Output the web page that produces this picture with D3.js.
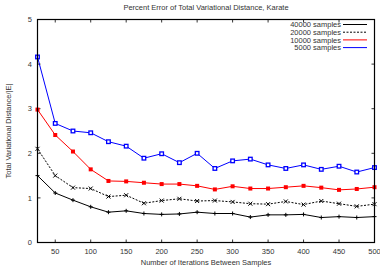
<!DOCTYPE html>
<html>
<head>
<meta charset="utf-8">
<script src="https://cdn.jsdelivr.net/npm/d3@7"></script>
<style>
  html, body { margin: 0; padding: 0; background: #fff; }
  svg { display: block; font-family: "Liberation Sans", Arial, sans-serif; }
</style>
</head>
<body>
<div id="chart"></div>
<script>
// iterations between samples
const iterations = [25, 50, 75, 100, 125, 150, 175, 200, 225, 250, 275, 300, 325, 350, 375, 400, 425, 450, 475, 500];

const s40000 = [1.50, 1.11, 0.95, 0.80, 0.68, 0.71, 0.65, 0.63, 0.64, 0.68, 0.65, 0.65, 0.57, 0.62, 0.62, 0.63, 0.56, 0.58, 0.56, 0.58];
const s20000 = [2.10, 1.50, 1.23, 1.21, 1.03, 1.06, 0.88, 0.94, 0.98, 0.93, 0.94, 0.91, 0.87, 0.86, 0.92, 0.85, 0.93, 0.87, 0.81, 0.86];
const s10000 = [2.98, 2.41, 2.04, 1.64, 1.38, 1.37, 1.34, 1.31, 1.31, 1.27, 1.19, 1.26, 1.21, 1.21, 1.24, 1.27, 1.23, 1.18, 1.20, 1.24];
const s5000  = [4.16, 2.67, 2.50, 2.46, 2.26, 2.16, 1.89, 1.99, 1.79, 2.00, 1.66, 1.83, 1.87, 1.74, 1.66, 1.74, 1.64, 1.71, 1.58, 1.68];

const xTicks = [50, 100, 150, 200, 250, 300, 350, 400, 450, 500];
const yTicks = [0, 1, 2, 3, 4, 5];

const series = [
  { name: '40000 samples', values: s40000, color: '#000000', dash: null,  marker: 'plus' },
  { name: '20000 samples', values: s20000, color: '#000000', dash: '2,1.5', marker: 'cross' },
  { name: '10000 samples', values: s10000, color: '#ff0000', dash: null,  marker: 'fsquare' },
  { name: '5000 samples',  values: s5000,  color: '#0000ff', dash: null,  marker: 'osquare' }
];

const width = 380, height = 274;
const margin = { top: 19.5, right: 5.5, bottom: 31.5, left: 37.5 };
const fs = 7.5;
const txt = '#333';

const svg = d3.select('#chart').append('svg')
  .attr('width', width).attr('height', height);

const x = d3.scaleLinear().domain([25, 500]).range([margin.left, width - margin.right]);
const y = d3.scaleLinear().domain([0, 5]).range([height - margin.bottom, margin.top]);

// title
svg.append('text')
  .attr('x', 206).attr('y', 10)
  .attr('text-anchor', 'middle')
  .attr('font-size', fs).attr('fill', txt)
  .text('Percent Error of Total Variational Distance, Karate');

// tick marks (inward, mirrored)
const tk = 3;
const ticksG = svg.append('g').attr('stroke', '#000').attr('stroke-width', 0.8);
xTicks.forEach(t => {
  ticksG.append('line').attr('x1', x(t)).attr('x2', x(t)).attr('y1', y(0)).attr('y2', y(0) - tk);
  ticksG.append('line').attr('x1', x(t)).attr('x2', x(t)).attr('y1', y(5)).attr('y2', y(5) + tk);
});
yTicks.forEach(t => {
  ticksG.append('line').attr('x1', x(25)).attr('x2', x(25) + tk).attr('y1', y(t)).attr('y2', y(t));
  ticksG.append('line').attr('x1', x(500)).attr('x2', x(500) - tk).attr('y1', y(t)).attr('y2', y(t));
});

// tick labels
svg.append('g').selectAll('text').data(xTicks).join('text')
  .attr('x', d => x(d)).attr('y', y(0) + 11.5)
  .attr('text-anchor', 'middle').attr('font-size', fs).attr('fill', txt)
  .text(d => d);
svg.append('g').selectAll('text').data(yTicks).join('text')
  .attr('x', x(25) - 5.5).attr('y', d => y(d) + 2.7)
  .attr('text-anchor', 'end').attr('font-size', fs).attr('fill', txt)
  .text(d => d);

// axis labels
svg.append('text')
  .attr('x', 206).attr('y', 264.5)
  .attr('text-anchor', 'middle').attr('font-size', fs).attr('fill', txt)
  .text('Number of Iterations Between Samples');
svg.append('text')
  .attr('transform', `translate(11, ${(y(0) + y(5)) / 2}) rotate(-90)`)
  .attr('text-anchor', 'middle').attr('font-size', fs).attr('fill', txt)
  .text('Total Variational Distance/|E|');

// series
const line = d3.line().x((d, i) => x(iterations[i])).y(d => y(d));

function drawMarker(g, m, cx, cy, color) {
  const r = 2;
  if (m === 'plus') {
    g.append('path').attr('d', `M${cx - r},${cy}H${cx + r}M${cx},${cy - r}V${cy + r}`)
      .attr('stroke', color).attr('stroke-width', 1).attr('fill', 'none');
  } else if (m === 'cross') {
    g.append('path').attr('d', `M${cx - r},${cy - r}L${cx + r},${cy + r}M${cx - r},${cy + r}L${cx + r},${cy - r}`)
      .attr('stroke', color).attr('stroke-width', 1).attr('fill', 'none');
  } else if (m === 'fsquare') {
    g.append('rect').attr('x', cx - r).attr('y', cy - r).attr('width', 2 * r).attr('height', 2 * r)
      .attr('fill', color);
  } else {
    const q = 1.8;
    g.append('rect').attr('x', cx - q).attr('y', cy - q).attr('width', 2 * q).attr('height', 2 * q)
      .attr('fill', '#fff').attr('stroke', color).attr('stroke-width', 1.3);
  }
}

series.forEach(s => {
  const g = svg.append('g');
  g.append('path')
    .attr('d', line(s.values))
    .attr('fill', 'none')
    .attr('stroke', s.color)
    .attr('stroke-width', 1)
    .attr('stroke-dasharray', s.dash);
  s.values.forEach((v, i) => drawMarker(g, s.marker, x(iterations[i]), y(v), s.color));
});

// legend
const lg = svg.append('g');
series.forEach((s, i) => {
  const ly = 24.5 + i * 7.7;
  lg.append('text')
    .attr('x', 341).attr('y', ly + 2.7)
    .attr('text-anchor', 'end').attr('font-size', fs).attr('fill', txt)
    .text(s.name);
  lg.append('line')
    .attr('x1', 343).attr('x2', 367).attr('y1', ly).attr('y2', ly)
    .attr('stroke', s.color).attr('stroke-width', 1)
    .attr('stroke-dasharray', s.dash);
});

// frame
svg.append('rect')
  .attr('x', x(25)).attr('y', y(5))
  .attr('width', x(500) - x(25)).attr('height', y(0) - y(5))
  .attr('fill', 'none').attr('stroke', '#000').attr('stroke-width', 1.2);
</script>
</body>
</html>
